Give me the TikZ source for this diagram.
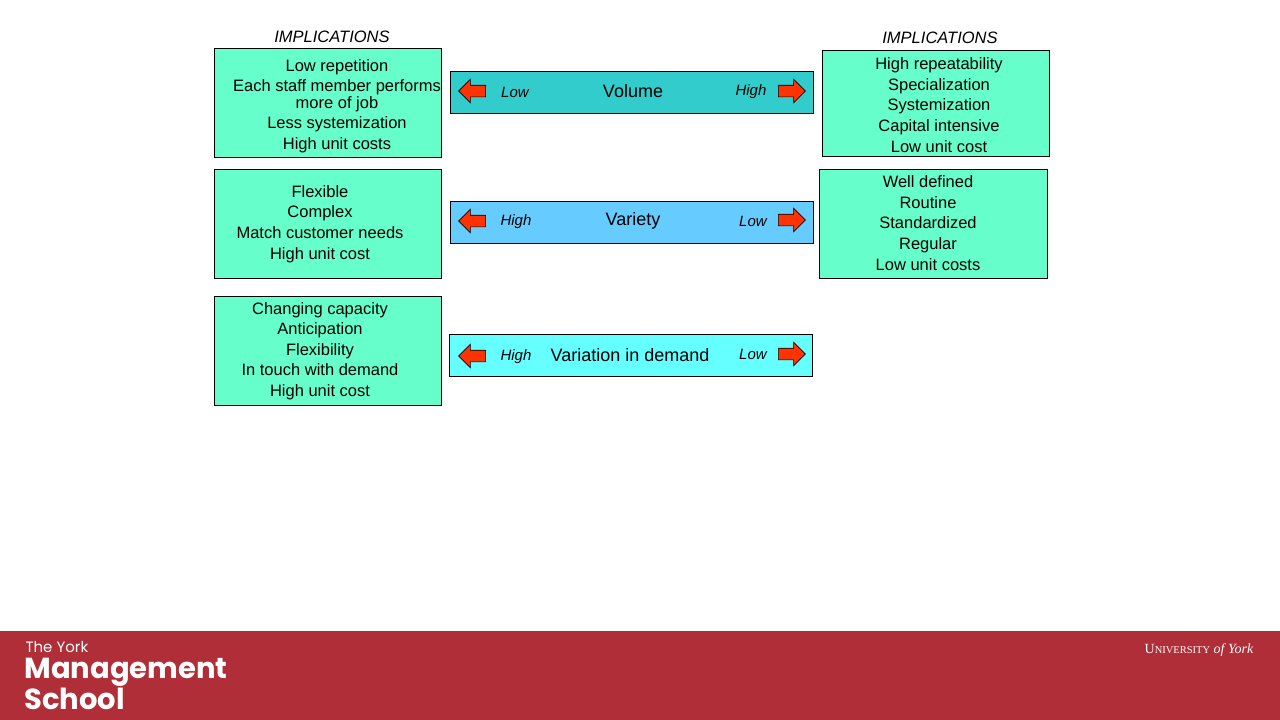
\documentclass[tikz,border=0pt]{standalone}
\usepackage{fontspec}
\setmainfont{Liberation Sans}
\newfontfamily\serifl{Liberation Serif}
\newfontfamily\popp{Poppins}
\usetikzlibrary{shapes.arrows}
\definecolor{boxg}{HTML}{66FFCC}
\definecolor{barA}{HTML}{33CCCC}
\definecolor{barB}{HTML}{66CCFF}
\definecolor{barC}{HTML}{66FFFF}
\definecolor{arr}{HTML}{FF3300}
\definecolor{band}{HTML}{B02E38}
\tikzset{
  ibox/.style={draw=black,fill=boxg,line width=0.8pt},
  itext/.style={align=center,font=\fontsize{16.5}{20.6}\selectfont},
  lbl/.style={font=\fontsize{16.5}{19}\selectfont\itshape},
  sl/.style={font=\fontsize{15}{18}\selectfont\itshape},
  bartxt/.style={font=\fontsize{18}{20}\selectfont},
  rarr/.style={single arrow,draw=black,fill=arr,minimum height=27pt,single arrow head extend=6pt,single arrow head indent=0pt,inner xsep=0pt,inner ysep=5.5pt,line width=0.6pt}
}
\begin{document}
\begin{tikzpicture}[x=1pt,y=-1pt]
\useasboundingbox (0,0) rectangle (1280,720);
\fill[white] (0,0) rectangle (1280,720);
% headings
\node[lbl] (h1) at (332,37) {IMPLICATIONS};
\node[lbl] (h2) at (940,38) {IMPLICATIONS};
% left boxes
\draw[ibox] (214,48) rectangle (441,157);
\node[itext] (l1) at (337,106) {Low repetition\\Each staff member performs\\[-4pt]more of job\\Less systemization\\High unit costs};
\draw[ibox] (214,169) rectangle (441,278);
\node[itext] (l2) at (320,224) {Flexible\\Complex\\Match customer needs\\High unit cost};
\draw[ibox] (214,296) rectangle (441,405);
\node[itext] (l3) at (320,351) {Changing capacity\\Anticipation\\Flexibility\\In touch with demand\\High unit cost};
% right boxes
\draw[ibox] (822,50) rectangle (1049,156);
\node[itext] (r1) at (939,105) {High repeatability\\Specialization\\Systemization\\Capital intensive\\Low unit cost};
\draw[ibox] (819,169) rectangle (1047,278);
\node[itext] (r2) at (928,223) {Well defined\\Routine\\Standardized\\Regular\\Low unit costs};
% bars
\draw[fill=barA,line width=0.8pt] (450,71) rectangle (813,113);
\node[bartxt] (b1) at (633,91) {Volume};
\node[rarr,shape border rotate=180] (a1l) at (475,91) {};
\node[rarr] (a1r) at (789,91) {};
\node[sl] (t1l) at (515,92) {Low};
\node[sl] (t1r) at (751,92) {High};
\draw[fill=barB,line width=0.8pt] (450,201) rectangle (813,243);
\node[bartxt] (b2) at (633,221) {Variety};
\node[rarr,shape border rotate=180] (a2l) at (475,221) {};
\node[rarr] (a2r) at (789,220) {};
\node[sl] (t2l) at (516,222) {High};
\node[sl] (t2r) at (753,221) {Low};
\draw[fill=barC,line width=0.8pt] (449,334) rectangle (812,376);
\node[bartxt] (b3) at (630,355) {Variation in demand};
\node[rarr,shape border rotate=180] (a3l) at (475,356) {};
\node[rarr] (a3r) at (789,354) {};
\node[sl] (t3l) at (516,357) {High};
\node[sl] (t3r) at (753,354) {Low};
% footer
\fill[band] (0,631) rectangle (1280,720);
\node[white,anchor=west,font=\popp\fontsize{15}{16}\selectfont] (f1) at (22,647) {The York};
\node[white,anchor=west,font=\popp\fontsize{29}{26}\selectfont\bfseries,align=left] (f2) at (21,684) {Management\\School};
\node[white,anchor=east,font=\serifl\fontsize{14}{14}\selectfont] (f3) at (1257,650) {U{\fontsize{10.5}{12}\selectfont NIVERSITY} \textit{of York}};
\end{tikzpicture}
\end{document}
